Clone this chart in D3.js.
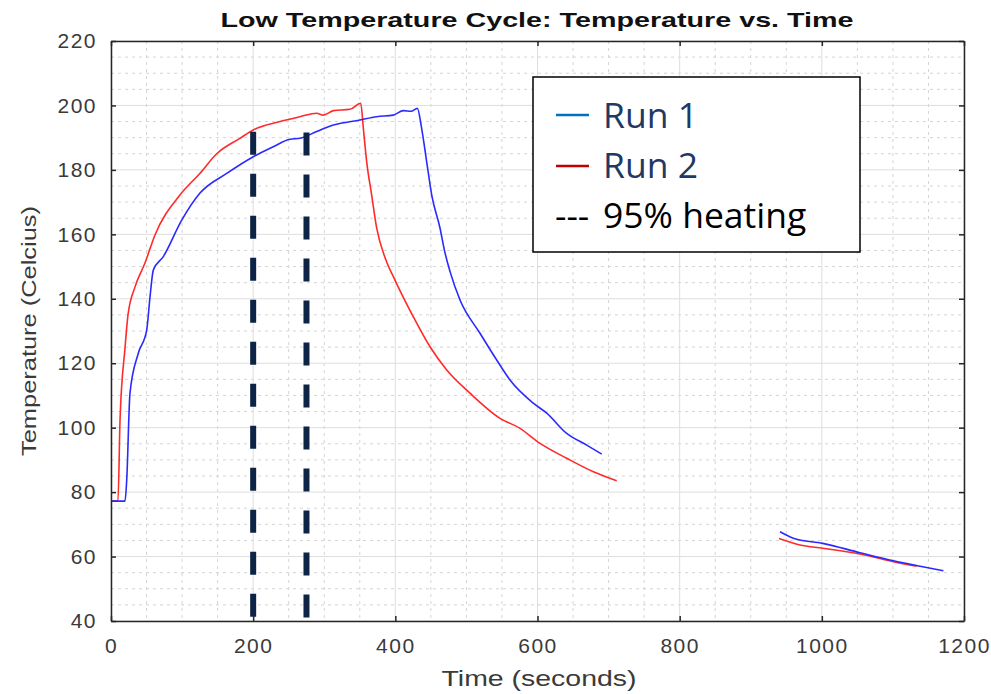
<!DOCTYPE html>
<meta charset="utf-8">
<body style="margin:0;background:#fff">
  <div id="chart"></div>
  <script src="https://d3js.org/d3.v7.min.js"></script>
  <script>
    // values
    var run1Heat = [
      [1.4, 77.2], [19.7, 77.2], [22.1, 83.7], [26.7, 110.7], [38.4, 123.1], [50.2, 130.3],
      [54.9, 140.6], [59.5, 148.9], [73.6, 153.1], [99.5, 164.4], [125.2, 172.8],
      [162.8, 178.9], [200.2, 184.1], [228.3, 187.2], [251.8, 189.5], [265.9, 189.8],
      [289.4, 191.9], [312.8, 193.9], [350.3, 195.5], [373.8, 196.5], [397.2, 197.0],
      [411.4, 198.4], [422, 198.2], [431, 199.1], [437, 192.9], [444.1, 182.5], [451.2, 172.2],
      [462.9, 161.9], [469, 155.1], [476.9, 148.5], [491, 139.6], [519.1, 129.3], [542.6, 121],
      [561.3, 114.8], [594.1, 107.6], [613, 104.5], [641.1, 98.2], [669.2, 94.6], [690.3, 91.8]
    ];
    var run1Cool = [
      [941.2, 67.7], [959.9, 65.7], [1001.3, 64.1], [1053.7, 61.2], [1100.6, 58.7],
      [1138.2, 57.0], [1171, 55.6]
    ];
    var run2Heat = [
      [1.4, 77.2], [9.8, 77.2], [12.7, 102.4], [19.7, 124.7], [23.9, 135], [33.8, 143.7],
      [47.8, 151.1], [61.9, 159.8], [97, 172.2], [125, 178.9], [148.7, 185.0], [181.5, 189.8],
      [200.2, 192.4], [237.8, 195], [265.9, 196.5], [289.4, 197.6], [298.7, 197.0],
      [312.8, 198.4], [336.3, 198.8], [351.3, 200.7], [355, 192.9], [359.7, 182.5],
      [366.7, 172.2], [373.8, 161.9], [386, 152.5], [399.5, 145.8], [425.3, 134.4],
      [448.8, 125.1], [472.3, 117.9], [505.1, 110.7], [547.3, 102.9], [575.4, 99.8],
      [603.6, 95.1], [641.1, 90.5], [678.6, 86.3], [711.4, 83.5]
    ];
    var run2Cool = [
      [939.8, 65.6], [969.3, 63.6], [1001.3, 62.6], [1053.7, 60.8], [1100.6, 58.4], [1133.5, 57.0]
    ];
    var heatMarks = [[200, 191.8], [275, 191.6]];  // 95% heating
    var xTicks = [0, 200, 400, 600, 800, 1000, 1200];
    var yTicks = [40, 60, 80, 100, 120, 140, 160, 180, 200, 220];
    var legendItems = ["Run 1", "Run 2", "95% heating"];

    var W = 991, H = 694;
    var margin = {top: 41, right: 27, bottom: 73, left: 111},
      width = 964 - margin.left,
      height = 621 - margin.top;

    var x = d3.scaleLinear().domain([0, 1200]).range([0, width]);
    var y = d3.scaleLinear().domain([40, 220]).range([height, 0]);

    var svg = d3.select("#chart").append("svg")
      .attr("width", W).attr("height", H)
      .style("font-family", "'Liberation Sans', Arial, sans-serif");

    var g = svg.append("g")
      .attr("transform", "translate(" + margin.left + "," + margin.top + ")");

    // minor grid
    var xMinor = d3.range(0, 1201, 50).filter(function(d) { return d % 200 != 0; });
    var yMinor = d3.range(40, 221, 5).filter(function(d) { return d % 20 != 0; });
    g.selectAll(".xminor").data(xMinor).enter().append("line")
      .attr("x1", x).attr("x2", x).attr("y1", 0).attr("y2", height)
      .style("stroke", "#d4d4d4").style("stroke-dasharray", "3,4");
    g.selectAll(".yminor").data(yMinor).enter().append("line")
      .attr("y1", y).attr("y2", y).attr("x1", 0).attr("x2", width)
      .style("stroke", "#d4d4d4").style("stroke-dasharray", "3,4");

    // major grid
    g.selectAll(".xmajor").data(xTicks).enter().append("line")
      .attr("x1", x).attr("x2", x).attr("y1", 0).attr("y2", height)
      .style("stroke", "#dedede");
    g.selectAll(".ymajor").data(yTicks).enter().append("line")
      .attr("y1", y).attr("y2", y).attr("x1", 0).attr("x2", width)
      .style("stroke", "#dedede");

    // curves
    var line = d3.line()
      .x(function(d) { return x(d[0]); })
      .y(function(d) { return y(d[1]); })
      .curve(d3.curveMonotoneX);

    [[run2Heat, "#ff2a2a"], [run2Cool, "#ff2a2a"], [run1Heat, "#2a2aff"], [run1Cool, "#2a2aff"]]
      .forEach(function(s) {
        g.append("path").datum(s[0])
          .attr("d", line)
          .style("fill", "none")
          .style("stroke", s[1])
          .style("stroke-width", 1.6);
      });

    // 95% heating markers
    g.selectAll(".heat").data(heatMarks).enter().append("line")
      .attr("x1", function(d) { return x(d[0]); })
      .attr("x2", function(d) { return x(d[0]); })
      .attr("y1", function(d) { return y(d[1]); })
      .attr("y2", y(40))
      .style("stroke", "#0d2447")
      .style("stroke-width", 6)
      .style("stroke-dasharray", "23,19");

    // axes, ticks inward on all four sides
    var axisStyle = function(sel) {
      sel.select(".domain").style("stroke", "#262626").style("stroke-width", 1.5);
      sel.selectAll(".tick line").style("stroke", "#262626").style("stroke-width", 1.5);
      sel.selectAll("text").style("fill", "#3a3a3a").style("font-size", "21px")
        .style("letter-spacing", "1.5px");
    };

    g.append("g")
      .attr("transform", "translate(0," + height + ")")
      .call(d3.axisBottom(x).tickValues(xTicks).tickFormat(d3.format("d"))
        .tickSizeInner(-5).tickSizeOuter(0).tickPadding(17))
      .call(axisStyle);
    g.append("g")
      .call(d3.axisLeft(y).tickValues(yTicks).tickSizeInner(-5).tickSizeOuter(0).tickPadding(14))
      .call(axisStyle);
    g.append("g")
      .call(d3.axisTop(x).tickValues(xTicks).tickSizeInner(-5).tickSizeOuter(0).tickFormat(""))
      .call(axisStyle);
    g.append("g")
      .attr("transform", "translate(" + width + ",0)")
      .call(d3.axisRight(y).tickValues(yTicks).tickSizeInner(-5).tickSizeOuter(0).tickFormat(""))
      .call(axisStyle);

    // title and axis labels
    svg.append("text")
      .attr("x", 537).attr("y", 27)
      .attr("text-anchor", "middle")
      .attr("textLength", 633).attr("lengthAdjust", "spacingAndGlyphs")
      .style("font-weight", "bold").style("font-size", "21px").style("fill", "#111")
      .text("Low Temperature Cycle: Temperature vs. Time");

    svg.append("text")
      .attr("x", 539).attr("y", 686)
      .attr("text-anchor", "middle")
      .attr("textLength", 195).attr("lengthAdjust", "spacingAndGlyphs")
      .style("font-size", "22px").style("fill", "#3a3a3a")
      .text("Time (seconds)");

    svg.append("text")
      .attr("transform", "translate(36,331) rotate(-90)")
      .attr("text-anchor", "middle")
      .attr("textLength", 250).attr("lengthAdjust", "spacingAndGlyphs")
      .style("font-size", "21px").style("fill", "#3a3a3a")
      .text("Temperature (Celcius)");

    // legend box
    var leg = svg.append("g").attr("transform", "translate(533,77)");
    leg.append("rect")
      .attr("width", 327).attr("height", 175)
      .style("fill", "#fff").style("stroke", "#000").style("stroke-width", 1.5);

    var legColors = ["#0070c0", "#c00000"];
    leg.selectAll(".key").data(legColors).enter().append("line")
      .attr("x1", 23).attr("x2", 56)
      .attr("y1", function(d, i) { return 38 + i * 51; })
      .attr("y2", function(d, i) { return 38 + i * 51; })
      .style("stroke", function(d) { return d; })
      .style("stroke-width", 2.5);

    leg.selectAll(".lab").data(legendItems).enter().append("text")
      .attr("x", 70)
      .attr("y", function(d, i) { return 51 + i * 50; })
      .style("font-family", "'Open Sans', sans-serif")
      .style("font-size", "35.5px")
      .style("fill", function(d, i) { return i < 2 ? "#1f3864" : "#000"; })
      .text(function(d) { return d; });

    leg.append("text")
      .attr("x", 22).attr("y", 151)
      .style("font-family", "'Open Sans', sans-serif")
      .style("font-size", "35.5px")
      .style("fill", "#000")
      .text("---");
  </script>
</body>
